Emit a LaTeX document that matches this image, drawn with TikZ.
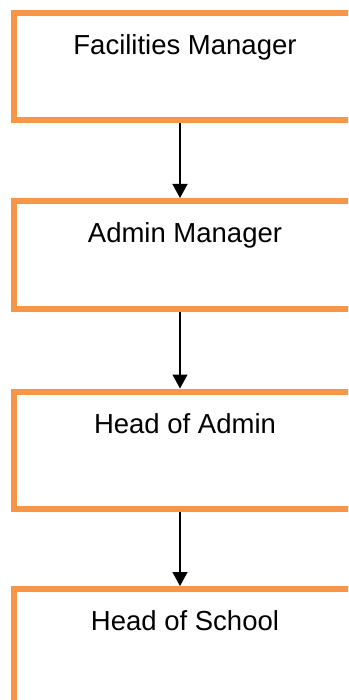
\documentclass[tikz,border=0pt]{standalone}
\usepackage{fontspec}
\setmainfont{Liberation Sans}
\usetikzlibrary{arrows.meta, positioning}
\definecolor{orgOrange}{HTML}{F79646}

\begin{document}
\begin{tikzpicture}[x=1pt, y=1pt, node distance=74.5pt,
    rolebox/.style={draw=orgOrange, line width=6pt, rectangle,
      minimum width=342pt, inner xsep=0pt, inner ysep=20pt, text height=21.5pt,
      font=\fontsize{27.5}{33}\selectfont},
    arr/.style={-{Triangle[length=14pt, width=15pt]}, line width=1.3pt, black}]
  % ramka strony
  \useasboundingbox (0,0) rectangle (348,-700);
  \clip (0,0) rectangle (348,-700);
  % stanowiska -- od góry do dołu
  \node[rolebox, text depth=45.5pt, anchor=north] (fm) at (185,-10.5) {Facilities Manager};
  \node[rolebox, text depth=46.5pt, below=of fm] (am) {Admin Manager};
  \node[rolebox, text depth=55.5pt, below=76.5pt of am] (hoa) {Head of Admin};
  \node[rolebox, text depth=80pt, below=of hoa] (hos) {Head of School};
  % strzałki
  \draw[arr] ([xshift=-5pt]fm.south) -- ([xshift=-5pt]am.north);
  \draw[arr] ([xshift=-5pt]am.south) -- ([xshift=-5pt]hoa.north);
  \draw[arr] ([xshift=-5pt]hoa.south) -- ([xshift=-5pt]hos.north);
\end{tikzpicture}
\end{document}
